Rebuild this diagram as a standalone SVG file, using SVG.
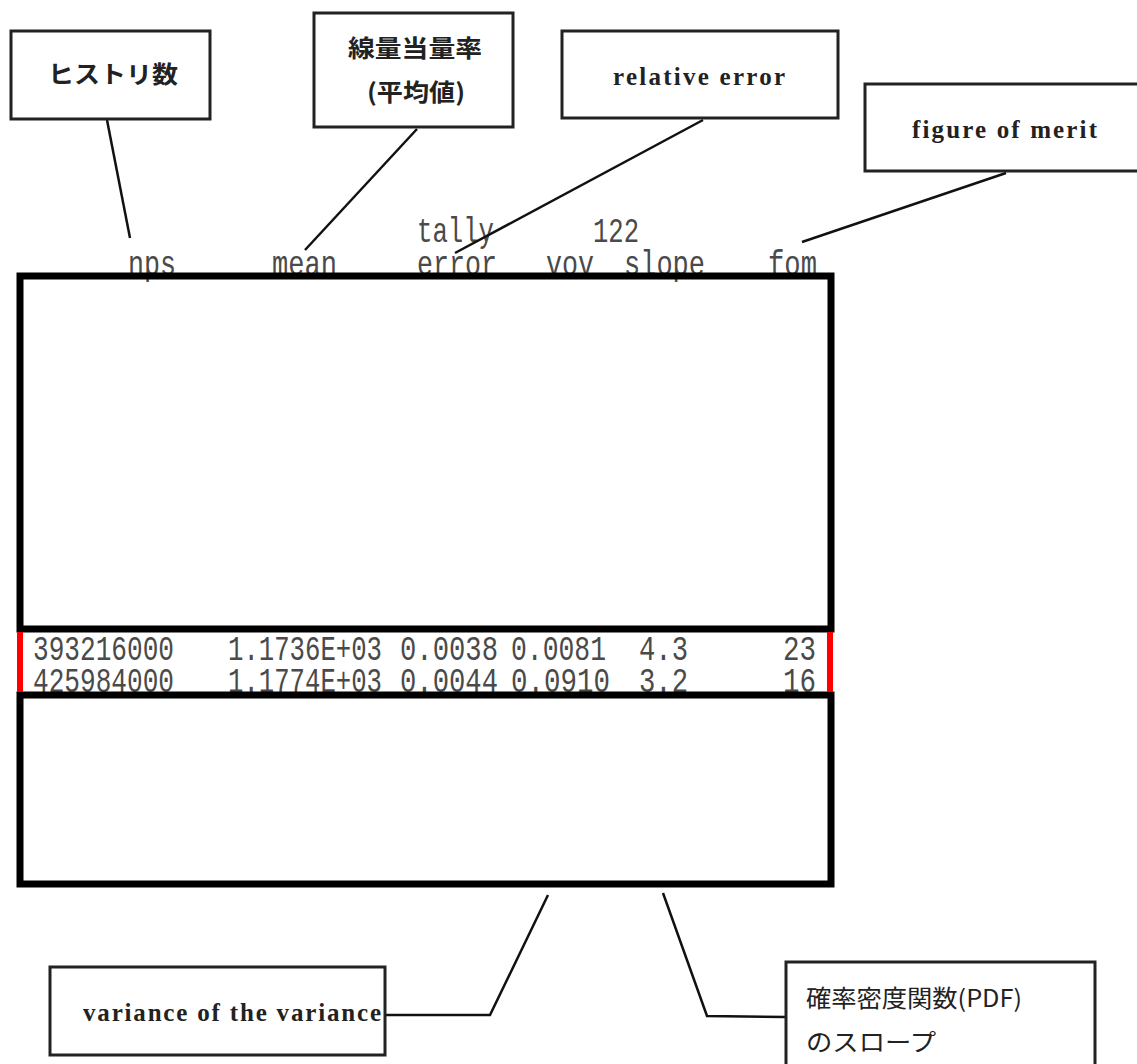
<svg xmlns="http://www.w3.org/2000/svg" width="1137" height="1064" viewBox="0 0 1137 1064">
<style>
.bg{fill:#fff}
.lbl rect{fill:#fff;stroke:#222;stroke-width:3}
.jp{font-family:"Noto Sans CJK JP",sans-serif;font-weight:bold;fill:#222;font-size:24px}
.en{font-family:"Liberation Serif",serif;font-weight:bold;fill:#222;font-size:25px}
.mono{font-family:"Liberation Mono",monospace;fill:#4a4a4a;font-size:35px}
.conn line,.conn polyline{stroke:#111;stroke-width:2.5;fill:none}
.frame{fill:none;stroke:#000;stroke-width:7}
.red{stroke:#f00;stroke-width:6}
</style>
<rect class="bg" width="1137" height="1064"/>

<g id="table-text">
  <text class="mono" x="417" y="242" textLength="77" lengthAdjust="spacingAndGlyphs">tally</text>
  <text class="mono" x="593" y="242" textLength="46" lengthAdjust="spacingAndGlyphs">122</text>
  <text class="mono" x="128" y="275" textLength="48" lengthAdjust="spacingAndGlyphs">nps</text>
  <text class="mono" x="272" y="275" textLength="65" lengthAdjust="spacingAndGlyphs">mean</text>
  <text class="mono" x="417" y="275" textLength="80" lengthAdjust="spacingAndGlyphs">error</text>
  <text class="mono" x="546" y="275" textLength="48" lengthAdjust="spacingAndGlyphs">vov</text>
  <text class="mono" x="624" y="275" textLength="81" lengthAdjust="spacingAndGlyphs">slope</text>
  <text class="mono" x="768" y="275" textLength="49" lengthAdjust="spacingAndGlyphs">fom</text>

  <text class="mono" x="33" y="660" textLength="141" lengthAdjust="spacingAndGlyphs">393216000</text>
  <text class="mono" x="228" y="660" textLength="154" lengthAdjust="spacingAndGlyphs">1.1736E+03</text>
  <text class="mono" x="400" y="660" textLength="98" lengthAdjust="spacingAndGlyphs">0.0038</text>
  <text class="mono" x="511" y="660" textLength="95" lengthAdjust="spacingAndGlyphs">0.0081</text>
  <text class="mono" x="639" y="660" textLength="49" lengthAdjust="spacingAndGlyphs">4.3</text>
  <text class="mono" x="783" y="660" textLength="33" lengthAdjust="spacingAndGlyphs">23</text>

  <text class="mono" x="33" y="692" textLength="141" lengthAdjust="spacingAndGlyphs">425984000</text>
  <text class="mono" x="228" y="692" textLength="154" lengthAdjust="spacingAndGlyphs">1.1774E+03</text>
  <text class="mono" x="400" y="692" textLength="98" lengthAdjust="spacingAndGlyphs">0.0044</text>
  <text class="mono" x="511" y="692" textLength="99" lengthAdjust="spacingAndGlyphs">0.0910</text>
  <text class="mono" x="639" y="692" textLength="49" lengthAdjust="spacingAndGlyphs">3.2</text>
  <text class="mono" x="783" y="692" textLength="33" lengthAdjust="spacingAndGlyphs">16</text>
</g>

<g id="table-frame">
  <rect class="frame" x="20" y="276" width="811" height="353"/>
  <rect class="frame" x="20" y="695" width="811" height="189"/>
  <line class="red" x1="20" y1="632" x2="20" y2="692"/>
  <line class="red" x1="830" y1="632" x2="830" y2="692"/>
</g>

<g class="conn" id="connectors">
  <line x1="107" y1="120" x2="130" y2="238"/>
  <line x1="417" y1="129" x2="305" y2="250"/>
  <line x1="703" y1="120" x2="455" y2="253"/>
  <line x1="1006" y1="173" x2="802" y2="242"/>
  <polyline points="548,895 490,1015 385,1015"/>
  <polyline points="663,893 707,1016 786,1017"/>
</g>

<g class="lbl" id="node-histories">
  <rect x="11" y="31" width="199" height="88"/>
  <text class="jp" x="113" y="83" text-anchor="middle" textLength="130" lengthAdjust="spacingAndGlyphs">ヒストリ数</text>
</g>
<g class="lbl" id="node-dose-rate">
  <rect x="314" y="13" width="199" height="114"/>
  <text class="jp" x="415" y="57" text-anchor="middle" textLength="134" lengthAdjust="spacingAndGlyphs">線量当量率</text>
  <text class="jp" x="416" y="101" text-anchor="middle" textLength="98" lengthAdjust="spacingAndGlyphs">(平均値)</text>
</g>
<g class="lbl" id="node-relative-error">
  <rect x="562" y="31" width="276" height="87"/>
  <text class="en" x="613" y="85" textLength="172" lengthAdjust="spacing">relative error</text>
</g>
<g class="lbl" id="node-fom">
  <rect x="865" y="84" width="280" height="87"/>
  <text class="en" x="912" y="138" textLength="185" lengthAdjust="spacing">figure of merit</text>
</g>
<g class="lbl" id="node-vov">
  <rect x="50" y="967" width="335" height="88"/>
  <text class="en" x="83" y="1021" textLength="298" lengthAdjust="spacing">variance of the variance</text>
</g>
<g class="lbl" id="node-pdf-slope">
  <rect x="786" y="962" width="309" height="120"/>
  <text class="jp" x="806" y="1007" textLength="216" lengthAdjust="spacingAndGlyphs" style="font-weight:normal">確率密度関数(PDF)</text>
  <text class="jp" x="806" y="1051" textLength="130" lengthAdjust="spacingAndGlyphs" style="font-weight:normal">のスロープ</text>
</g>
</svg>
